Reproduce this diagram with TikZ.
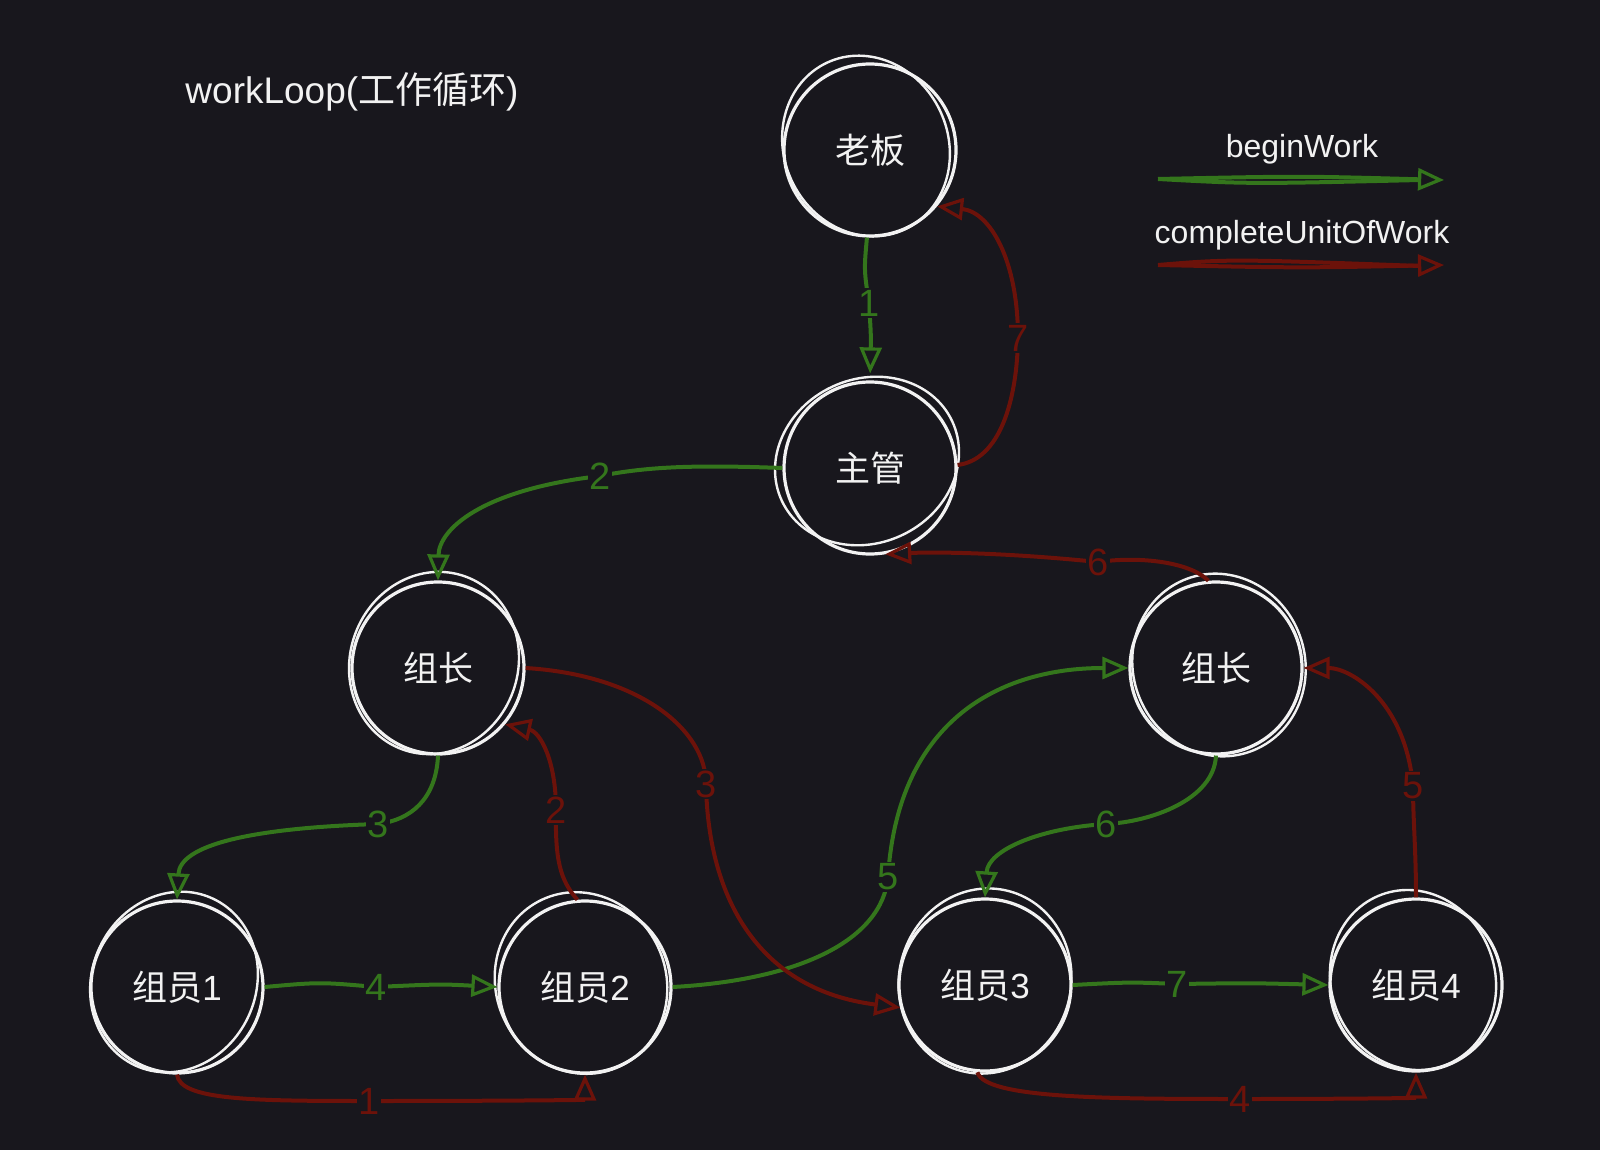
\documentclass[tikz,border=0pt]{standalone}
\usepackage{fontspec}
\setmainfont{Liberation Sans}
\newfontfamily\cjk{Noto Sans CJK SC}
\usetikzlibrary{arrows.meta}
\definecolor{bg}{RGB}{24,23,29}
\definecolor{wht}{RGB}{242,242,242}
\definecolor{grn}{RGB}{52,118,28}
\definecolor{rd}{RGB}{108,18,10}
\begin{document}
\begin{tikzpicture}[x=1pt,y=-1pt,
  person/.style={circle, draw=wht, line width=3.2pt, minimum size=172pt, inner sep=0pt, text=wht, font=\fontsize{35}{35}\selectfont},
  sk/.style={draw=wht, line width=2.4pt},
  tip/.style={-{Triangle[open,length=26pt,width=22pt,line width=3.2pt]}},
  ge/.style={draw=grn, line width=4pt, tip},
  re/.style={draw=rd, line width=4pt, tip},
  gl/.style={fill=bg, inner sep=1.5pt, text=grn, font=\fontsize{38}{38}\selectfont},
  rl/.style={fill=bg, inner sep=1.5pt, text=rd, font=\fontsize{38}{38}\selectfont},
  txt/.style={text=wht, inner sep=0pt}
]
\useasboundingbox[fill=bg] (0,0) rectangle (1600,1150);

% title and legend
\node[txt, font=\fontsize{37}{37}\selectfont] (title) at (352,92) {workLoop({\cjk 工作循环})};
\node[txt, font=\fontsize{32}{32}\selectfont] (lgA) at (1302,149) {beginWork};
\node[txt, font=\fontsize{32}{32}\selectfont] (lgB) at (1302,235) {completeUnitOfWork};
\coordinate (la1) at (1158,179); \coordinate (la2) at (1444,180);
\coordinate (lb1) at (1158,265); \coordinate (lb2) at (1444,265);
\draw[ge] (la1) .. controls (1300,176) .. (la2);
\draw[ge, -] (la1) .. controls (1250,184) .. (1420,180);
\draw[re] (lb1) .. controls (1300,268) .. (lb2);
\draw[re, -] (lb1) .. controls (1230,259) .. (1420,266);

% nodes
\node[person] (boss) at (870,150) {\cjk 老板};
\node[person] (mgr) at (870,468) {\cjk 主管};
\node[person] (tlL) at (438,668) {\cjk 组长};
\node[person] (tlR) at (1216,668) {\cjk 组长};
\node[person] (m1) at (177,987) {{\cjk 组员}1};
\node[person] (m2) at (585,987) {{\cjk 组员}2};
\node[person] (m3) at (985,985) {{\cjk 组员}3};
\node[person] (m4) at (1416,985) {{\cjk 组员}4};

% sketch strokes
\foreach \n/\a/\dx/\dy/\rx/\ry in {boss/25/-4/-4/82/92, mgr/25/-3/-7/94/82, tlL/-20/-4/-5/84/92, tlR/20/3/-3/86/92, m1/-25/-3/-5/82/92, m2/25/-4/-4/85/92, m3/-15/0/-4/86/93, m4/20/-3/-5/82/91}
  \draw[sk] (\n.center) ++(\dx,\dy) ellipse[x radius=\rx, y radius=\ry, rotate=\a];

% label coordinates
\coordinate (g1c) at (869,303);
\coordinate (g2c) at (600,476);
\coordinate (g3c) at (378,824);
\coordinate (g4c) at (376,987);
\coordinate (g5c) at (888,877);
\coordinate (g6c) at (1106,824);
\coordinate (g7c) at (1177,984);
\coordinate (r1c) at (369,1101);
\coordinate (r2c) at (556,810);
\coordinate (r3c) at (706,784);
\coordinate (r4c) at (1240,1099);
\coordinate (r5c) at (1413,786);
\coordinate (r6c) at (1098,562);
\coordinate (r7c) at (1018,338);

% beginWork edges
\draw[ge, shorten >=7pt] (boss.-92) .. controls (864,270) .. (g1c) .. controls (871,335) .. (mgr.90);
\draw[ge] (mgr.180) .. controls (700,465) and (650,466) .. (g2c) .. controls (480,490) and (439,530) .. (tlL.90);
\draw[ge] (tlL.-90) .. controls (436,800) and (410,820) .. (g3c) .. controls (250,828) and (180,845) .. (m1.90);
\draw[ge] (m1.0) .. controls (320,982) .. (g4c) .. controls (440,984) .. (m2.180);
\draw[ge] (m2.0) .. controls (800,980) and (882,940) .. (g5c) .. controls (898,720) and (1000,668) .. (tlR.180);
\draw[ge] (tlR.-90) .. controls (1214,800) and (1150,822) .. (g6c) .. controls (1040,828) and (988,850) .. (m3.90);
\draw[ge] (m3.0) .. controls (1130,982) .. (g7c) .. controls (1250,983) .. (m4.180);

% completeUnitOfWork edges
\draw[re] (m1.-90) .. controls (180,1100) and (250,1101) .. (r1c) .. controls (500,1101) and (585,1100) .. (m2.-90);
\draw[re] (m2.95) .. controls (560,880) and (555,860) .. (r2c) .. controls (556,760) and (540,732) .. (tlL.-40);
\draw[re] (tlL.0) .. controls (640,675) and (706,730) .. (r3c) .. controls (708,900) and (760,990) .. (m3.195);
\draw[re] (m3.-95) .. controls (985,1098) and (1100,1099) .. (r4c) .. controls (1350,1099) and (1416,1098) .. (m4.-90);
\draw[re] (m4.90) .. controls (1416,850) and (1413,820) .. (r5c) .. controls (1405,700) and (1350,668) .. (tlR.0);
\draw[re] (tlR.95) .. controls (1190,562) and (1140,556) .. (r6c) .. controls (1000,552) and (930,552) .. (mgr.-80);
\draw[re] (mgr.2) .. controls (1000,460) and (1017,400) .. (r7c) .. controls (1018,260) and (990,212) .. (boss.-40);

% edge labels
\node[gl] (g1) at (g1c) {1};
\node[gl] (g2) at (g2c) {2};
\node[gl] (g3) at (g3c) {3};
\node[gl] (g4) at (g4c) {4};
\node[gl] (g5) at (g5c) {5};
\node[gl] (g6) at (g6c) {6};
\node[gl] (g7) at (g7c) {7};
\node[rl] (r1) at (r1c) {1};
\node[rl] (r2) at (r2c) {2};
\node[rl] (r3) at (r3c) {3};
\node[rl] (r4) at (r4c) {4};
\node[rl] (r5) at (r5c) {5};
\node[rl] (r6) at (r6c) {6};
\node[rl] (r7) at (r7c) {7};
\end{tikzpicture}
\end{document}
